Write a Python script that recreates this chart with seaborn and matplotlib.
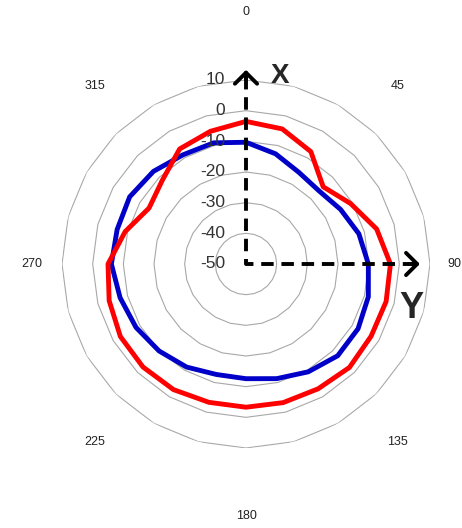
import numpy as np
import pandas as pd
import matplotlib
matplotlib.use("Agg")
import matplotlib.pyplot as plt
import matplotlib.transforms as mtransforms
import seaborn as sns

# radar data, one value every 15 degrees (clockwise from top)
angles_deg = list(range(0, 360, 15))
red_values = [-3.5, -4.4, -7.7, -14.4, -10.6, -5.9, -2.9, -2.7, -2.9, -2.3, -3.0, -3.2,
              -3.3, -3.3, -2.7, -2.5, -2.7, -3.8, -5.0, -9.2, -13.5, -11.4, -6.7, -5.2]
blue_values = [-10.3, -12.8, -15.5, -16.3, -14.4, -11.9, -10.1, -8.7, -7.8, -7.7, -9.4, -11.3,
               -12.6, -12.7, -11.2, -9.9, -8.6, -7.5, -6.1, -6.5, -6.2, -7.3, -8.9, -9.1]

ring_values = [-40, -30, -20, -10, 0, 10]
rlabel_values = [-50, -40, -30, -20, -10, 0, 10]
cat_labels = ["0", "45", "90", "135", "180", "225", "270", "315"]
cat_angles = [0, 45, 90, 135, 180, 225, 270, 315]

sns.set_theme(style="white")
plt.rcParams['font.family'] = ['Liberation Sans', 'DejaVu Sans']

fig = plt.figure(figsize=(4.62, 5.28), dpi=100)
ax = fig.add_axes([62 / 462, 80 / 528, 368 / 462, 368 / 528], projection='polar')
ax.set_theta_zero_location('N')
ax.set_theta_direction(-1)

theta = np.deg2rad(angles_deg + [angles_deg[0] + 360])
df = pd.DataFrame({'theta': theta,
                   'red': red_values + red_values[:1],
                   'blue': blue_values + blue_values[:1]})

# polygon gridlines like the excel radar chart
for v in ring_values:
    ax.plot(theta, [v] * len(theta), color='#a8a8a8', lw=0.8, zorder=1)

sns.lineplot(data=df, x='theta', y='blue', sort=False, estimator=None, color='#0000c8',
             lw=3.5, ax=ax, zorder=3, solid_joinstyle='round')
sns.lineplot(data=df, x='theta', y='red', sort=False, estimator=None, color='#ff0000',
             lw=3.5, ax=ax, zorder=3, solid_joinstyle='round')

ax.set_ylim(-50, 10)
ax.set_xticks([])
ax.set_yticks([])
ax.grid(False)
ax.spines['polar'].set_visible(False)
ax.set_xlabel('')
ax.set_ylabel('')

# radial labels left of the vertical axis
offset = mtransforms.ScaledTranslation(-21 / 100, 0, fig.dpi_scale_trans)
for v in rlabel_values:
    ax.text(0, v, f"{v}", transform=ax.transData + offset, ha='right', va='center',
            fontsize=12.5, color='#333333', zorder=4)

# category labels on an ellipse around the chart
for lab, a in zip(cat_labels, cat_angles):
    t = np.deg2rad(a)
    x = 0.5 + 214 / 368 * np.sin(t)
    if a == 90:
        x = 0.5 + 208 / 368  # keep it inside the picture edge
    ax.text(x, 0.5 + 252 / 368 * np.cos(t), lab,
            transform=ax.transAxes, ha='center', va='center', fontsize=9, color='#222222')

# dashed X / Y axes with arrow heads
ax.plot([0, 0, np.pi / 2, np.pi / 2], [11.0, -50, -50, 5.0], color='black', lw=2.8,
        ls=(0, (3.2, 2)), clip_on=False, zorder=5)
head = '->, head_length=0.4, head_width=0.4'
ax.annotate('', xy=(0, 13.3), xytext=(0, 10.0),
            arrowprops=dict(arrowstyle=head, color='black', lw=2.8, mutation_scale=20,
                            shrinkA=0, shrinkB=0),
            annotation_clip=False, zorder=6)
ax.annotate('', xy=(np.pi / 2, 6.7), xytext=(np.pi / 2, 3.5),
            arrowprops=dict(arrowstyle=head, color='black', lw=2.8, mutation_scale=20,
                            shrinkA=0, shrinkB=0),
            annotation_clip=False, zorder=6)

fig.text(280 / 462, 1 - 76 / 528, 'X', fontsize=20, fontweight='bold', ha='center', va='center')
fig.text(411 / 462, 1 - 308 / 528, 'Y', fontsize=26, fontweight='bold', ha='center', va='center')

fig.savefig('out.png', dpi=100)
